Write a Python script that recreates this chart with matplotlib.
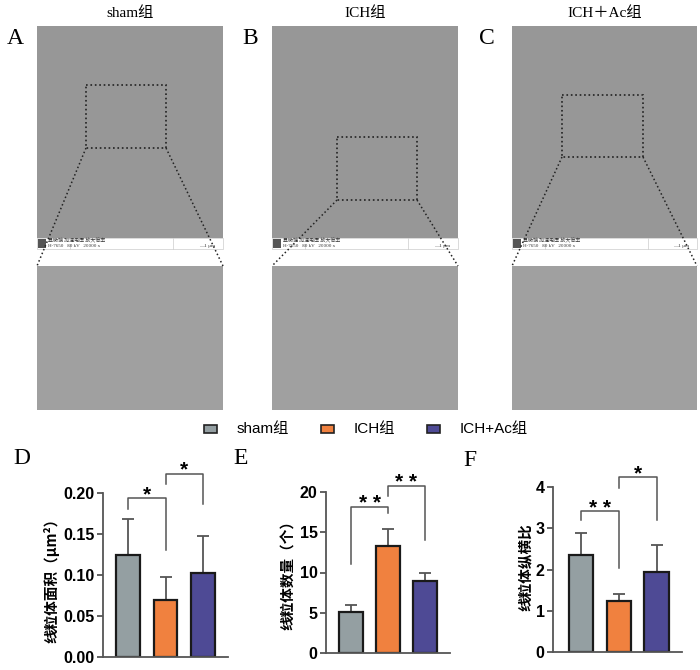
import numpy as np
import matplotlib
matplotlib.use('Agg')
import matplotlib.pyplot as plt
from matplotlib.patches import Rectangle

# ---- data ----
groups = ['sham组', 'ICH组', 'ICH+Ac组']
titles = ['sham组', 'ICH组', 'ICH＋Ac组']
colors = ['#949fa2', '#f0813f', '#4e4a95']

area_mean = [0.124, 0.070, 0.102]
area_sd = [0.044, 0.028, 0.045]
count_mean = [5.1, 13.3, 8.95]
count_sd = [0.9, 2.1, 1.05]
ratio_mean = [2.35, 1.24, 1.95]
ratio_sd = [0.54, 0.17, 0.64]

area_ticks = [0.00, 0.05, 0.10, 0.15, 0.20]
count_ticks = [0, 5, 10, 15, 20]
ratio_ticks = [0, 1, 2, 3, 4]

pairs = [(0, 1), (1, 2)]
area_sig = ['*', '*']
count_sig = ['* *', '* *']
ratio_sig = ['* *', '*']

SANS = ['Liberation Sans', 'Noto Sans CJK SC', 'DejaVu Sans']
SERIF = ['Liberation Serif', 'Noto Sans CJK SC', 'DejaVu Sans']
CJK = ['Noto Sans CJK SC', 'DejaVu Sans']
AX_COL = '#555555'

W, H = 700, 670
fig = plt.figure(figsize=(W / 100, H / 100), dpi=100)
fig.patch.set_facecolor('white')

# overlay in pixel coordinates for the micrograph row, legend and labels
bg = fig.add_axes([0, 0, 1, 1])
bg.set_xlim(0, W)
bg.set_ylim(H, 0)
bg.axis('off')

# micrograph placeholders: (letter, left, right, zoom box)
em_panels = [
    ('A', 37, 223, (86, 85, 166, 148)),
    ('B', 272, 458, (337, 137, 417, 200)),
    ('C', 512, 697, (562, 95, 643, 157)),
]
up_top, up_bot, strip_bot, lo_top, lo_bot = 26, 238, 249, 266, 410
letter_x = [15, 250, 487]
for i, (letter, l, r, box) in enumerate(em_panels):
    w = r - l
    bg.add_patch(Rectangle((l, up_top), w, up_bot - up_top, fc='#979797', ec='none'))
    bg.add_patch(Rectangle((l, up_bot), w, strip_bot - up_bot, fc='white', ec='#cccccc', lw=0.5))
    bg.add_patch(Rectangle((l + 1, up_bot + 1), 8, 9, fc='#555555', ec='none'))
    bg.plot([l + 33, l + 33], [up_bot + 5.5, strip_bot], color='#cccccc', lw=0.5)
    bg.plot([l + 136, l + 136], [up_bot, strip_bot], color='#cccccc', lw=0.5)
    bg.text(l + 11, up_bot + 3, '显微镜 加速电压 放大倍率', fontsize=3.6, family=CJK,
            va='center', ha='left', color='#333333')
    bg.text(l + 11, up_bot + 8, 'H-7650   80 kV   20000 x', fontsize=3.6, family=SERIF,
            va='center', ha='left', color='#333333')
    bg.text(r - 8, up_bot + 8, '—1 μm', fontsize=3.8, family=SERIF,
            va='center', ha='right', color='#333333')
    bg.add_patch(Rectangle((l, lo_top), w, lo_bot - lo_top, fc='#a0a0a0', ec='none'))
    bx0, by0, bx1, by1 = box
    bg.add_patch(Rectangle((bx0, by0), bx1 - bx0, by1 - by0, fill=False,
                           ec='#222222', ls=':', lw=1.2))
    bg.plot([bx0, l], [by1, lo_top], color='#222222', ls=':', lw=1.1)
    bg.plot([bx1, r], [by1, lo_top], color='#222222', ls=':', lw=1.1)
    bg.text((l + r) / 2, 13, titles[i], fontsize=11, family=SERIF,
            ha='center', va='center')
    bg.text(letter_x[i], 38, letter, fontsize=17, family=SERIF,
            ha='center', va='center')

# legend
leg_box_x = [204, 321, 427]
for i, g in enumerate(groups):
    bg.add_patch(Rectangle((leg_box_x[i], 424.5), 13, 8, fc=colors[i], ec='#222222', lw=1.2))
    bg.text(leg_box_x[i] + 33, 428.5, g, fontsize=11, family=SANS,
            ha='left', va='center')

# bar panels: (left, top, right, bottom) in pixels, xlim
bar_panels = [
    (103, 493, 228, 657, (-0.667, 2.667)),
    (326, 492, 450, 653, (-0.676, 2.676)),
    (553, 487, 682, 652, (-0.74, 2.675)),
]
means = [area_mean, count_mean, ratio_mean]
sds = [area_sd, count_sd, ratio_sd]
ticks = [area_ticks, count_ticks, ratio_ticks]
tick_fmt = ['{:.2f}', '{:d}', '{:d}']
sigs = [area_sig, count_sig, ratio_sig]
# bracket layout: (bar height, left leg end, right leg end, star height)
brackets = [
    [(0.1935, 0.181, 0.130, 0.2055), (0.2236, 0.2114, 0.186, 0.236)],
    [(18.1, 11.1, 17.4, 19.4), (20.7, 19.5, 14.0, 22.0)],
    [(3.41, 3.19, 2.03, 3.64), (4.24, 3.98, 3.19, 4.48)],
]
ylabels = ['线粒体面积（μm²）', '线粒体数量（个）', '线粒体纵横比']
ylabel_pos = [(51, 577), (288, 572), (525, 567)]
panel_letters = [('D', 22, 458), ('E', 241, 458), ('F', 470, 461)]

x = np.arange(len(groups))
for k, (l, t, r, b, xl) in enumerate(bar_panels):
    ax = fig.add_axes([l / W, 1 - b / H, (r - l) / W, (b - t) / H])
    ax.set_facecolor('none')
    ax.errorbar(x, means[k], yerr=[np.zeros(3), sds[k]], fmt='none',
                ecolor=AX_COL, elinewidth=1.3, capsize=4.5, capthick=1.3, zorder=1)
    ax.bar(x, means[k], width=0.64, color=colors, edgecolor='#1a1a1a',
           linewidth=1.6, zorder=2)
    ax.set_xlim(*xl)
    ax.set_ylim(ticks[k][0], ticks[k][-1])
    ax.set_yticks(ticks[k])
    ax.set_yticklabels([tick_fmt[k].format(v) for v in ticks[k]],
                       fontsize=11.5, fontweight='bold', family=SANS)
    ax.set_xticks([])
    for s in ['top', 'right']:
        ax.spines[s].set_visible(False)
    for s in ['left', 'bottom']:
        ax.spines[s].set_color(AX_COL)
        ax.spines[s].set_linewidth(1.3)
    ax.tick_params(axis='y', length=4, width=1.3, color=AX_COL, pad=2)

    for (a, c), lab, (yb, yl, yr, ys) in zip(pairs, sigs[k], brackets[k]):
        ax.plot([a, a, c, c], [yl, yb, yb, yr], color=AX_COL, lw=1.1,
                clip_on=False, zorder=3)
        ax.annotate(lab, ((a + c) / 2, ys), xytext=(0, -8.5),
                    textcoords='offset points', ha='center', va='baseline',
                    fontsize=15, fontweight='bold', family=SANS, annotation_clip=False)

    bg.text(ylabel_pos[k][0], ylabel_pos[k][1], ylabels[k], rotation=90,
            fontsize=10.5, fontweight='bold', family=CJK, ha='center', va='center')
    letter, lx, ly = panel_letters[k]
    bg.text(lx, ly, letter, fontsize=17, family=SERIF, ha='center', va='center')

fig.savefig('out.png', dpi=100)
